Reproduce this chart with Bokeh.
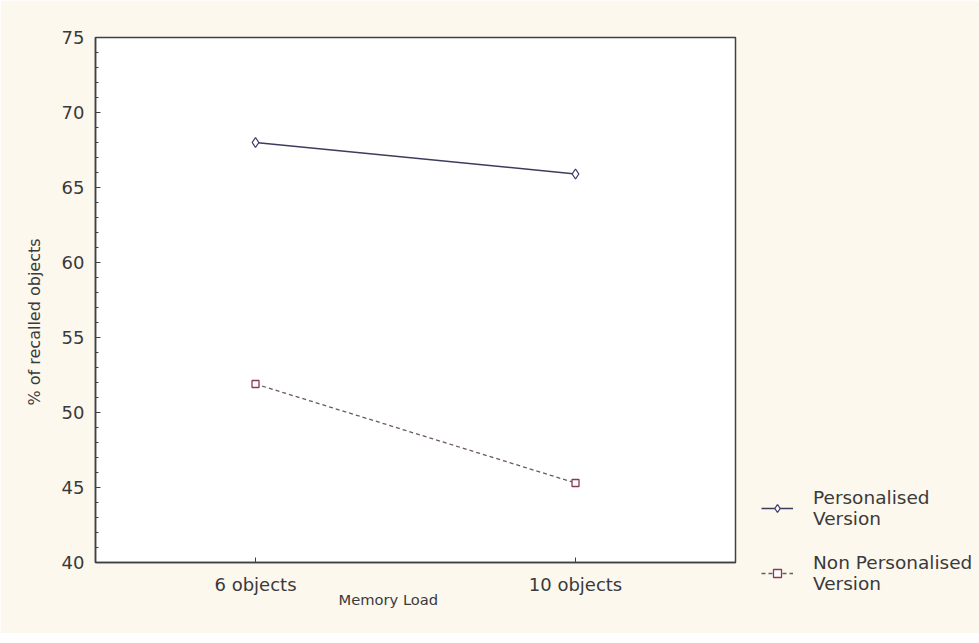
from bokeh.plotting import figure
from bokeh.models import Legend, LegendItem, FactorRange, Range1d, FixedTicker, Title
from bokeh.embed import file_html
from bokeh.resources import INLINE

categories = ["6 objects", "10 objects"]
personalised = [68.0, 65.9]
non_personalised = [51.9, 45.3]
y_ticks = [40, 45, 50, 55, 60, 65, 70, 75]

FONT = "DejaVu Sans"
TXT = "#3a3a3a"

p = figure(x_range=FactorRange(*categories, range_padding=0),
           y_range=Range1d(40, 75),
           frame_width=640, frame_height=525,
           min_border_left=95, min_border_top=37, min_border_bottom=0, min_border_right=0,
           output_backend="svg", toolbar_location=None,
           background_fill_color="white", border_fill_color="#fcf8ee")
p.outline_line_color = "#404040"
p.outline_line_width = 1.5
p.grid.visible = False

p.yaxis.ticker = FixedTicker(ticks=y_ticks, minor_ticks=list(range(40, 76)))
for ax in (p.xaxis[0], p.yaxis[0]):
    ax.axis_line_color = "#404040"
    ax.axis_line_width = 1.5
    ax.major_tick_in = 5
    ax.major_tick_out = 0
    ax.minor_tick_in = 3
    ax.minor_tick_out = 0
    ax.major_tick_line_color = "#404040"
    ax.minor_tick_line_color = "#404040"
    ax.major_label_text_font = FONT
    ax.major_label_text_font_size = "18px"
    ax.major_label_text_color = TXT
p.xaxis.major_label_standoff = 11
p.yaxis.major_label_standoff = 11

xlab = Title(text="Memory Load", align="left", offset=243, standoff=-20,
             text_font=FONT, text_font_size="14.7px", text_font_style="normal",
             text_color=TXT)
p.add_layout(xlab, "below")
spacer = Title(text=" ", standoff=10, text_font=FONT, text_font_size="20px")
p.add_layout(spacer, "below")
ylab = Title(text="% of recalled objects", align="left", offset=157, standoff=29,
             text_font=FONT, text_font_size="16px", text_font_style="normal",
             text_color=TXT)
p.add_layout(ylab, "left")

l1 = p.line(categories, personalised, line_color="#3c3c5c", line_width=1.5)
m1 = p.scatter(categories, personalised, marker="diamond", size=10,
               line_color="#3c3c6c", fill_color="white", line_width=1.3)
l2 = p.line(categories, non_personalised, line_color="#6a5a62", line_width=1.3, line_dash="4 3")
m2 = p.scatter(categories, non_personalised, marker="square", size=7,
               line_color="#8a3a52", fill_color="white", line_width=1.3)

legend = Legend(items=[
    LegendItem(label="Personalised\nVersion", renderers=[l1, m1]),
    LegendItem(label="Non Personalised\nVersion", renderers=[l2, m2]),
], location=(18, -40))
legend.background_fill_alpha = 0
legend.border_line_alpha = 0
legend.label_text_font = FONT
legend.label_text_font_size = "18.5px"
legend.label_text_color = TXT
legend.glyph_width = 32
legend.spacing = 23
legend.label_standoff = 20
legend.margin = 0
legend.padding = 8
p.add_layout(legend, "right")

open("out.html", "w").write(file_html(p, INLINE))
